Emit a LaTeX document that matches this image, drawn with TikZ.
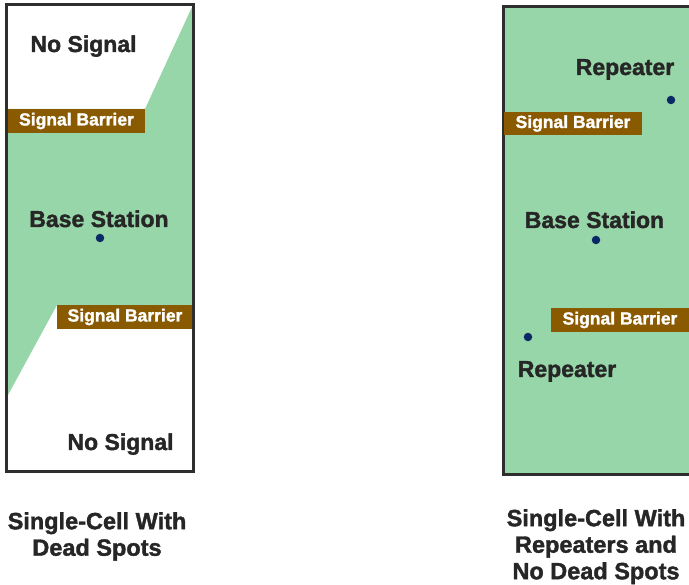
\documentclass[tikz,border=0pt]{standalone}
\usepackage{fontspec}
\setmainfont{Liberation Sans}
\newfontfamily\heavy[BoldFont={Liberation Sans Bold}, BoldFeatures={FakeBold=1.6}]{Liberation Sans}
\definecolor{cellgreen}{HTML}{97D6A8}
\definecolor{barbrown}{HTML}{8A5A00}
\definecolor{frame}{HTML}{2E2E2E}
\definecolor{txt}{HTML}{262626}
\definecolor{dotblue}{HTML}{0B2866}
\tikzset{
  lbl/.style={font=\fontsize{23}{26}\selectfont\heavy\bfseries, text=txt, inner sep=0pt, anchor=base},
  bar/.style={fill=barbrown, text=white, font=\fontsize{17.5}{20}\selectfont\heavy\bfseries, inner sep=0pt},
  cellframe/.style={draw=frame, line width=3pt},
  station/.style={circle, fill=dotblue, inner sep=0pt, minimum size=8.5pt},
  caption/.style={font=\fontsize{23.5}{26.5}\selectfont\heavy\bfseries, text=txt, align=center, inner sep=0pt, anchor=north}
}
\begin{document}
\begin{tikzpicture}[x=1pt,y=-1pt]
\useasboundingbox (0,0) rectangle (689,585);
% left cell
\fill[cellgreen] (192,7) -- (145,109) -- (8,109) -- (8,395) -- (57,305) -- (192,305) -- cycle;
\node[bar, minimum width=137pt, minimum height=24pt] (barA) at (76.5,121) {Signal Barrier};
\node[bar, minimum width=136pt, minimum height=24pt] (barB) at (125,317) {Signal Barrier};
\draw[cellframe] (6.5,5) rectangle (193.5,472);
\node[lbl] (nsA) at (83.5,52) {No Signal};
\node[lbl] (bsA) at (99,227) {Base Station};
\node[station] (dotA) at (100,238) {};
\node[lbl] (nsB) at (120.5,450) {No Signal};
% right cell
\fill[cellgreen] (503,6.5) rectangle (700,475);
\draw[cellframe] (503,6.5) rectangle (700,475);
\node[bar, minimum width=138pt, minimum height=23pt] (barC) at (573,123.5) {Signal Barrier};
\node[bar, minimum width=138pt, minimum height=24pt] (barD) at (620,320) {Signal Barrier};
\node[lbl] (repA) at (625,75) {Repeater};
\node[station] (dotR1) at (671,100) {};
\node[lbl] (bsB) at (594.5,228) {Base Station};
\node[station] (dotB) at (596,240) {};
\node[station] (dotR2) at (528,337) {};
\node[lbl] (repB) at (567,377) {Repeater};
% captions
\node[caption] (capA) at (97,512) {Single-Cell With\\Dead Spots};
\node[caption] (capB) at (596,509) {Single-Cell With\\Repeaters and\\No Dead Spots};
\end{tikzpicture}
\end{document}
